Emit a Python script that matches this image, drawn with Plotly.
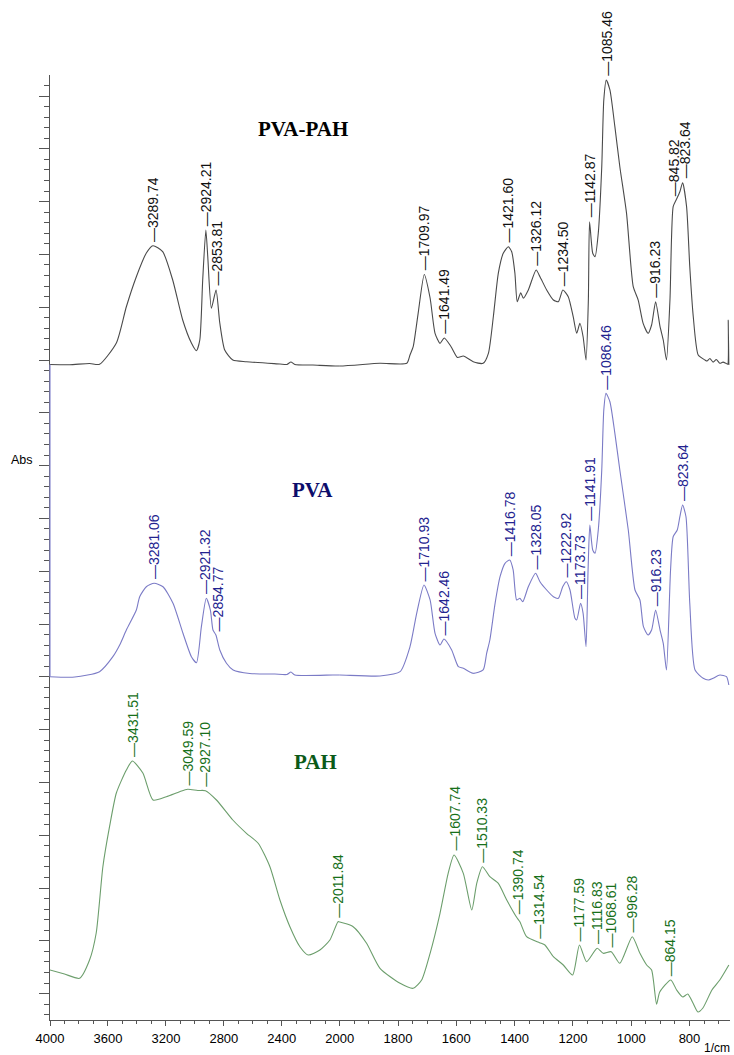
import numpy as np
import plotly.graph_objects as go

# ---------------- data (wavenumber in 1/cm, absorbance, arbitrary stacked units) ----------------
pvapah_wn = [4000, 3865, 3727, 3658, 3542, 3473, 3404, 3335, 3289.74, 3222, 3153, 3084, 3024, 2989,
             2966, 2946, 2924.21, 2911, 2886, 2853.81, 2828, 2794, 2738, 2644, 2413, 2365, 2337, 2310,
             2185, 2000, 1862, 1770, 1759, 1748, 1731, 1709.97, 1690, 1673, 1656, 1641.49, 1618, 1596,
             1576, 1542, 1508, 1490, 1473, 1456, 1439, 1421.60, 1410, 1399, 1391, 1379, 1370, 1353,
             1326.12, 1313, 1290, 1267, 1250, 1234.50, 1216, 1199, 1187, 1176, 1165, 1155, 1147,
             1142.87, 1132, 1124, 1113, 1101, 1094, 1085.46, 1073, 1056, 1039, 1016, 993, 976, 959,
             942, 930, 916.23, 901, 890, 879, 867, 856, 845.82, 833, 823.64, 810, 799, 787, 770, 747,
             740, 730, 719, 708, 696, 685, 675, 669, 667, 665]
pvapah_abs = [1.2415, 1.2411, 1.2434, 1.2419, 1.2822, 1.3509, 1.4078, 1.4527, 1.4665, 1.4551, 1.4015,
              1.3258, 1.2822, 1.2676, 1.2879, 1.4015, 1.4962, 1.4456, 1.3480, 1.3826, 1.3201, 1.2689,
              1.2500, 1.2468, 1.2424, 1.2415, 1.2462, 1.2415, 1.2405, 1.2386, 1.2438, 1.2438, 1.2595,
              1.2752, 1.3384, 1.4119, 1.3674, 1.3006, 1.2816, 1.2917, 1.2752, 1.2547, 1.2576, 1.2468,
              1.2438, 1.2627, 1.3320, 1.4142, 1.4521, 1.4646, 1.4551, 1.4142, 1.3604, 1.3775, 1.3669,
              1.3826, 1.4205, 1.4078, 1.3826, 1.3636, 1.3604, 1.3826, 1.3699, 1.3320, 1.3006, 1.3195,
              1.2941, 1.2500, 1.3636, 1.5120, 1.4521, 1.4456, 1.4900, 1.6161, 1.7424, 1.7803, 1.7614,
              1.6919, 1.6161, 1.5278, 1.3888, 1.3636, 1.3195, 1.3006, 1.3163, 1.3604, 1.3131, 1.2879,
              1.2500, 1.3636, 1.5404, 1.5530, 1.5688, 1.5858, 1.5404, 1.4267, 1.3320, 1.2595, 1.2500,
              1.2480, 1.2530, 1.2460, 1.2510, 1.2438, 1.2460, 1.2438, 1.2420, 1.3258, 1.2405]

pva_wn = [4000, 3829, 3658, 3566, 3519, 3473, 3404, 3381, 3335, 3281.06, 3220, 3151, 3082, 3024, 2989,
          2955, 2921.32, 2893, 2875, 2854.77, 2828, 2782, 2736, 2621, 2448, 2365, 2337, 2310, 2047,
          2000, 1862, 1793, 1759, 1736, 1710.93, 1690, 1673, 1656, 1642.46, 1616, 1593, 1576, 1542,
          1508, 1496, 1485, 1467, 1450, 1433, 1416.78, 1405, 1393, 1382, 1372, 1353, 1328.05, 1313,
          1290, 1267, 1250, 1235, 1222.92, 1210, 1193, 1187, 1173.73, 1165, 1155, 1148, 1141.91, 1132,
          1124, 1113, 1101, 1094, 1086.46, 1073, 1056, 1039, 1010, 987, 970, 958, 942, 930, 916.23,
          901, 890, 879, 865, 856, 842, 833, 823.64, 812, 799, 781, 753, 735, 719, 696, 673, 665]
pva_abs = [0.6502, 0.6496, 0.6597, 0.6881, 0.7102, 0.7386, 0.7765, 0.8017, 0.8206, 0.8271, 0.8206,
           0.7892, 0.7324, 0.6881, 0.6767, 0.7449, 0.7987, 0.7765, 0.7386, 0.7292, 0.7008, 0.6756,
           0.6629, 0.6563, 0.6553, 0.6544, 0.6591, 0.6534, 0.6534, 0.6534, 0.6515, 0.6597, 0.7070,
           0.7703, 0.8239, 0.7955, 0.7324, 0.7102, 0.7216, 0.7008, 0.6691, 0.6661, 0.6566, 0.6629,
           0.6945, 0.7197, 0.7892, 0.8396, 0.8650, 0.8712, 0.8523, 0.7955, 0.7987, 0.7922, 0.8206,
           0.8460, 0.8301, 0.8144, 0.8017, 0.7987, 0.8206, 0.8301, 0.8144, 0.7608, 0.7576, 0.7892,
           0.7703, 0.7070, 0.8523, 0.9375, 0.8902, 0.8839, 0.9280, 1.0417, 1.1553, 1.1869, 1.1710,
           1.1112, 1.0417, 0.9280, 0.8144, 0.7955, 0.7449, 0.7292, 0.7386, 0.7765, 0.7386, 0.7134,
           0.6629, 0.8523, 0.9153, 0.9280, 0.9532, 0.9754, 0.9532, 0.7892, 0.6629, 0.6472, 0.6440,
           0.6472, 0.6534, 0.6502, 0.6345]

pah_wn = [4000, 3900, 3796, 3727, 3681, 3635, 3589, 3542, 3473, 3431.51, 3359, 3289, 3197, 3105,
          3049.59, 2980, 2927.10, 2851, 2738, 2644, 2563, 2482, 2413, 2344, 2275, 2218, 2137, 2068,
          2011.84, 2000, 1954, 1908, 1862, 1793, 1748, 1719, 1690, 1656, 1628, 1607.74, 1576, 1547,
          1530, 1510.33, 1485, 1456, 1427, 1390.74, 1382, 1359, 1314.54, 1296, 1267, 1233, 1201,
          1177.59, 1153, 1116.83, 1096, 1068.61, 1039, 996.28, 970, 947, 930, 913, 902, 864.15, 844,
          823, 806, 788, 771, 754, 723, 696, 665]
pah_abs = [0.0947, 0.0871, 0.0790, 0.1136, 0.1648, 0.2903, 0.3661, 0.4299, 0.4735, 0.4905, 0.4678,
           0.4167, 0.4229, 0.4324, 0.4369, 0.4347, 0.4343, 0.4167, 0.3788, 0.3536, 0.3347, 0.2903,
           0.2273, 0.1767, 0.1388, 0.1231, 0.1326, 0.1515, 0.1862, 0.1856, 0.1767, 0.1453, 0.0979,
           0.0695, 0.0600, 0.0758, 0.1263, 0.2021, 0.2778, 0.3125, 0.2778, 0.2083, 0.2589, 0.2903,
           0.2714, 0.2589, 0.2273, 0.1926, 0.1862, 0.1578, 0.1464, 0.1420, 0.1199, 0.1042, 0.0852,
           0.1420, 0.1104, 0.1358, 0.1263, 0.1294, 0.1074, 0.1578, 0.1263, 0.1042, 0.0947, 0.0300,
           0.0530, 0.0758, 0.0568, 0.0436, 0.0492, 0.0322, 0.0152, 0.0227, 0.0568, 0.0758, 0.1042]

pvapah_peaks = [3289.74, 2924.21, 2853.81, 1709.97, 1641.49, 1421.60, 1326.12, 1234.50, 1142.87,
                1085.46, 916.23, 845.82, 823.64]
pva_peaks = [3281.06, 2921.32, 2854.77, 1710.93, 1642.46, 1416.78, 1328.05, 1222.92, 1173.73,
             1141.91, 1086.46, 916.23, 823.64]
pah_peaks = [3431.51, 3049.59, 2927.10, 2011.84, 1607.74, 1510.33, 1390.74, 1314.54, 1177.59,
             1116.83, 1068.61, 996.28, 864.15]

x_ticks_high = [4000, 3600, 3200, 2800, 2400]
x_ticks_low = [2000, 1800, 1600, 1400, 1200, 1000, 800]

# ---------------- styling ----------------
series = [
    ("PVA-PAH", pvapah_wn, pvapah_abs, pvapah_peaks, "#4a4a4a", "#111111", "#000000", (0.372, 0.943)),
    ("PVA", pva_wn, pva_abs, pva_peaks, "#7b7bc6", "#23238f", "#0d0d6b", (0.386, 0.561)),
    ("PAH", pah_wn, pah_abs, pah_peaks, "#6c9e6c", "#17701a", "#0b5a18", (0.390, 0.2725)),
]
# small horizontal nudges for crowded label pairs (px)
label_nudge = {("PVA-PAH", 845.82): -2.5, ("PVA-PAH", 823.64): 2.5,
               ("PVA", 2921.32): -1, ("PVA", 2854.77): 3}
SPLIT = 0.4261
AXC = "#555555"
LABEL_FONT = "Liberation Sans, Arial, sans-serif"

fig = go.Figure()
annotations = []
for name, wn, ab, peaks, lc, tc, ttc, tpos in series:
    for xa in ("x", "x2"):
        fig.add_trace(go.Scatter(x=wn, y=ab, mode="lines", xaxis=xa, yaxis="y",
                                 line=dict(color=lc, width=1.1, shape="spline", smoothing=0.6),
                                 showlegend=False, hoverinfo="skip"))
    wr = np.array(wn[::-1], dtype=float)
    ar = np.array(ab[::-1], dtype=float)
    for p in peaks:
        yv = float(np.interp(p, wr, ar))
        annotations.append(dict(
            x=p, y=yv, xref="x" if p >= 2000 else "x2", yref="y",
            text="\u2014" + f"{p:.2f}", textangle=-90, showarrow=False,
            xanchor="center", yanchor="bottom", yshift=2,
            xshift=label_nudge.get((name, p), 0),
            font=dict(family=LABEL_FONT, size=14, color=tc)))
    annotations.append(dict(
        x=tpos[0], y=tpos[1], xref="paper", yref="paper", text=f"<b>{name}</b>",
        showarrow=False, xanchor="center", yanchor="middle",
        font=dict(family="Liberation Serif, Times New Roman, serif", size=21, color=ttc)))

annotations.append(dict(x=-0.022, y=0.5926, xref="paper", yref="paper", text="Abs",
                        showarrow=False, xanchor="right", yanchor="middle",
                        font=dict(family=LABEL_FONT, size=12.5, color="#000")))
annotations.append(dict(x=1.003, y=-0.0296, xref="paper", yref="paper", text="1/cm",
                        showarrow=False, xanchor="right", yanchor="middle",
                        font=dict(family=LABEL_FONT, size=12, color="#000")))

# coloured segment of the ordinate between the PVA-PAH and PVA baselines
shapes = [dict(type="line", xref="paper", yref="y", x0=0, x1=0,
               y0=pvapah_abs[0], y1=pva_abs[0], line=dict(color="#8a8ad0", width=1.2))]

xcommon = dict(showline=True, linecolor=AXC, linewidth=1, ticks="outside", ticklen=5,
               tickcolor=AXC, showgrid=False, zeroline=False, anchor="y",
               ticklabelstandoff=1,
               tickfont=dict(family=LABEL_FONT, size=13, color="#000"))

fig.update_layout(
    width=734, height=1055,
    margin=dict(l=50, r=4, t=75, b=35),
    paper_bgcolor="white", plot_bgcolor="white",
    xaxis=dict(domain=[0, SPLIT], range=[4000, 2000], tickmode="array", tickvals=x_ticks_high,
               ticktext=[str(v) for v in x_ticks_high],
               minor=dict(tickmode="linear", tick0=0, dtick=100, ticks="outside", ticklen=3,
                          tickcolor=AXC), **xcommon),
    xaxis2=dict(domain=[SPLIT, 1], range=[2000, 661], tickmode="array", tickvals=x_ticks_low,
                ticktext=[str(v) for v in x_ticks_low],
                minor=dict(tickmode="linear", tick0=0, dtick=50, ticks="outside", ticklen=3,
                           tickcolor=AXC), **xcommon),
    yaxis=dict(range=[0, 1.7898], domain=[0, 1], anchor="x", showticklabels=False,
               showline=True, linecolor=AXC, linewidth=1, ticks="outside", ticklen=10,
               tickcolor=AXC, tickmode="linear", tick0=0.05, dtick=0.1, showgrid=False,
               zeroline=False,
               minor=dict(tickmode="linear", tick0=0.05, dtick=0.02, ticks="outside", ticklen=5,
                          tickcolor=AXC)),
    annotations=annotations,
    shapes=shapes,
)

fig.write_html("out.html", config={"displayModeBar": False},
               post_script="document.body.style.margin='0';document.body.style.padding='0';"
                           "document.body.style.overflow='hidden';")
